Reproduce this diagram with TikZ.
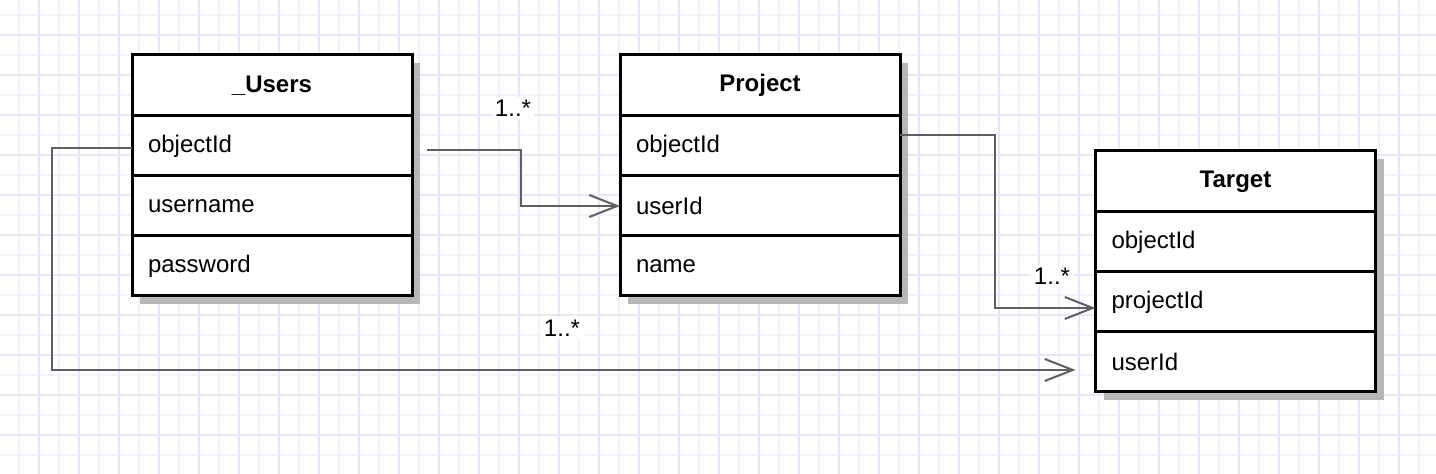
\documentclass[tikz,border=0pt]{standalone}
\usepackage{fontspec}
\setmainfont{Liberation Sans}
\usetikzlibrary{positioning,arrows.meta,shadows}
\definecolor{gridminor}{RGB}{242,242,255}
\definecolor{gridmajor}{RGB}{230,230,255}
\definecolor{shadowgray}{RGB}{182,182,182}
\definecolor{linkgray}{RGB}{95,95,95}
\newcommand{\umlfont}{\fontsize{12}{14}\selectfont}
\tikzset{
  classhead/.style={rectangle, draw, line width=1.5pt, outer sep=0pt, fill=white, minimum width=140pt,
                    minimum height=30.5pt, font=\umlfont\bfseries,
                    drop shadow={shadow xshift=4pt, shadow yshift=-4pt, fill=shadowgray, opacity=1}},
  field/.style={rectangle, draw, line width=1.5pt, outer sep=0pt, fill=white, text width=124pt, inner xsep=8pt,
                minimum height=30pt, align=left, font=\umlfont,
                drop shadow={shadow xshift=4pt, shadow yshift=-4pt, fill=shadowgray, opacity=1}},
  link/.style={draw=linkgray, line width=1pt, -{Straight Barb[length=14pt,width=11pt]}},
  mult/.style={fill=white, inner sep=1.5pt, font=\umlfont},
}

\begin{document}
\begin{tikzpicture}[x=0.5pt, y=-0.5pt]
  \useasboundingbox (0,0) rectangle (1436,474);
  % background grid
  \foreach \x in {19,59,...,1439} \draw[gridminor, line width=0.6pt] (\x,0) -- (\x,474);
  \foreach \y in {15,55,...,474} \draw[gridminor, line width=0.6pt] (0,\y) -- (1436,\y);
  \foreach \x in {39,79,...,1439} \draw[gridmajor, line width=0.6pt] (\x,0) -- (\x,474);
  \foreach \y in {35,75,...,474} \draw[gridmajor, line width=0.6pt] (0,\y) -- (1436,\y);

  % _Users
  \node[classhead] (users) at (272,85.5) {\_Users};
  \node[field, below=0pt of users] (usersObj) {objectId};
  \node[field, below=0pt of usersObj] (usersName) {username};
  \node[field, below=0pt of usersName] (usersPass) {password};

  % Project
  \node[classhead] (project) at (760,85.5) {Project};
  \node[field, below=0pt of project] (projObj) {objectId};
  \node[field, below=0pt of projObj] (projUser) {userId};
  \node[field, below=0pt of projUser] (projName) {name};

  % Target
  \node[classhead] (target) at (1235.5,181.5) {Target};
  \node[field, below=0pt of target] (targObj) {objectId};
  \node[field, below=0pt of targObj] (targProj) {projectId};
  \node[field, below=0pt of targProj] (targUser) {userId};

  % links
  \draw[link] ([xshift=7.5pt, yshift=-2pt]usersObj.east) -- ++(94,0) |- (projUser.west);
  \draw[link] ([yshift=5.5pt]projObj.east) -- ++(95,0) |- ([yshift=-3pt]targProj.west);
  \draw[link] ([yshift=-1pt]usersObj.west) -- ++(-80,0) |- ([xshift=-10pt, yshift=-4pt]targUser.west);

  \node[mult] (multA) at (513,108) {1..*};
  \node[mult] (multB) at (1052,276) {1..*};
  \node[mult] (multC) at (562,328) {1..*};
\end{tikzpicture}
\end{document}
